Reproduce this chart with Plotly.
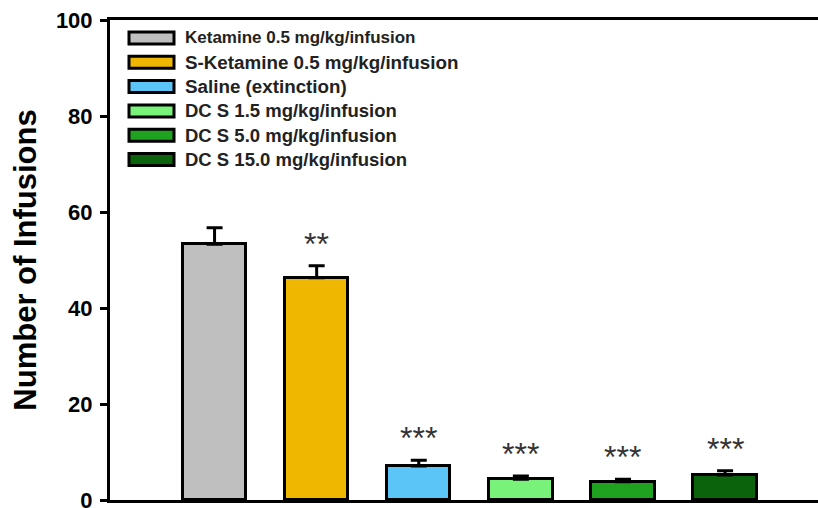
import plotly.graph_objects as go

# Group labels, mean infusions and SEM
groups = [
    "Ketamine 0.5 mg/kg/infusion",
    "S-Ketamine 0.5 mg/kg/infusion",
    "Saline (extinction)",
    "DCS 1.5 mg/kg/infusion",
    "DCS 5.0 mg/kg/infusion",
    "DCS 15.0 mg/kg/infusion",
]
legend_labels = [
    "Ketamine 0.5 mg/kg/infusion",
    "S-Ketamine 0.5 mg/kg/infusion",
    "Saline (extinction)",
    "DC S 1.5 mg/kg/infusion",
    "DC S 5.0 mg/kg/infusion",
    "DC S 15.0 mg/kg/infusion",
]
means = [53.3, 46.3, 7.1, 4.3, 3.8, 5.2]
sem = [3.4, 2.5, 1.2, 0.7, 0.5, 0.9]
signif = ["", "**", "***", "***", "***", "***"]
colors = ["#BFBFBF", "#EFB700", "#5BC5F7", "#79F279", "#1FA21F", "#0B630B"]

y_ticks = [0, 20, 40, 60, 80, 100]

FONT = "Liberation Sans, Arial, sans-serif"
W, H = 818, 508
L, R, T, B = 110, 0, 20, 8

xpos = list(range(len(groups)))

fig = go.Figure()
fig.add_trace(go.Bar(
    x=xpos,
    y=means,
    width=0.62,
    marker=dict(color=colors, line=dict(color="black", width=3)),
    error_y=dict(type="data", array=sem, arrayminus=[0] * len(sem),
                 symmetric=False, color="black", thickness=3, width=8),
    showlegend=False,
    hoverinfo="skip",
))

# significance marks above each error bar
for xi, m, e, s in zip(xpos, means, sem, signif):
    if s:
        fig.add_annotation(x=xi, y=m + e, text=s, showarrow=False,
                           yanchor="bottom", yshift=2,
                           font=dict(family=FONT, size=32, color="#333333"))

# legend drawn as outlined swatches with labels
plot_w = W - L - R
plot_h = H - T - B


def px_x(px):
    return (px - L) / plot_w


def px_y(py):
    return (H - B - py) / plot_h


row0, row_step = 38, 24.3
label_sizes = [17, 18.8, 18.8, 18.5, 18.5, 18.5]
for i, (lab, c) in enumerate(zip(legend_labels, colors)):
    cy = row0 + i * row_step
    fig.add_shape(type="rect", xref="paper", yref="paper",
                  x0=px_x(129), x1=px_x(174), y0=px_y(cy + 6), y1=px_y(cy - 6),
                  fillcolor=c, line=dict(color="black", width=3))
    fig.add_annotation(xref="paper", yref="paper", x=px_x(183), y=px_y(cy),
                       xanchor="left", yanchor="middle", text=lab, showarrow=False,
                       font=dict(family=FONT, size=label_sizes[i], color="#222222",
                                 weight="bold"))

fig.update_layout(
    width=W, height=H,
    margin=dict(l=L, r=R, t=T, b=B, autoexpand=False),
    paper_bgcolor="white", plot_bgcolor="white",
    font=dict(family=FONT, color="black"),
    xaxis=dict(range=[-1.024, 5.91], showticklabels=False, ticks="",
               showgrid=False, zeroline=False, showline=True, mirror=True,
               linecolor="black", linewidth=3, automargin=False),
    yaxis=dict(range=[0, 100], tickvals=y_ticks, ticks="outside", ticklen=7,
               tickwidth=3, tickcolor="black", showgrid=False, zeroline=False,
               showline=True, linecolor="black", linewidth=3, automargin=False,
               ticklabeloverflow="allow", ticklabelstandoff=3,
               tickfont=dict(family=FONT, size=22, color="black", weight="bold"),
               title=dict(text="Number of Infusions", standoff=11,
                          font=dict(family=FONT, size=31, color="black", weight="bold"))),
    bargap=0,
)

fig.write_html("out.html")
